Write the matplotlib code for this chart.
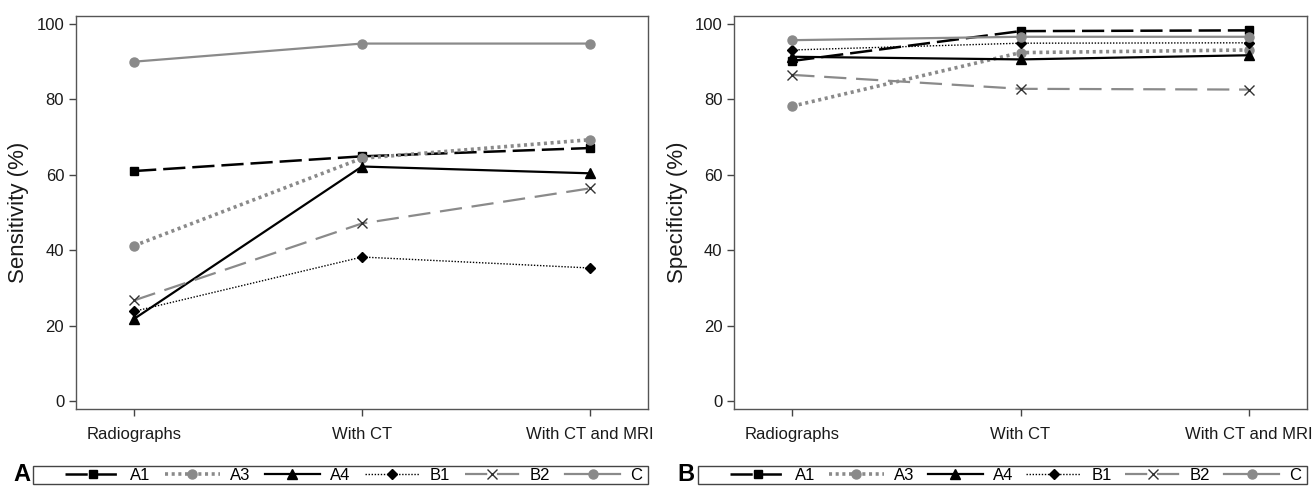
import matplotlib
matplotlib.use("Agg")
import matplotlib.pyplot as plt
from matplotlib.patches import Rectangle

plt.rcParams["font.family"] = ["Liberation Sans", "DejaVu Sans"]
plt.rcParams["lines.scale_dashes"] = False

# categories on the x axis
stages = ["Radiographs", "With CT", "With CT and MRI"]
readers = ["A1", "A3", "A4", "B1", "B2", "C"]

# sensitivity (%) per reader, panel A
sens_A1 = [61.0, 64.9, 67.1]
sens_A3 = [41.2, 64.4, 69.3]
sens_A4 = [21.8, 62.2, 60.4]
sens_B1 = [23.8, 38.2, 35.3]
sens_B2 = [26.7, 47.1, 56.4]
sens_C = [90.0, 94.8, 94.8]

# specificity (%) per reader, panel B
spec_A1 = [90.2, 98.1, 98.3]
spec_A3 = [78.2, 92.4, 93.1]
spec_A4 = [91.3, 90.6, 91.7]
spec_B1 = [93.1, 94.9, 95.0]
spec_B2 = [86.5, 82.8, 82.6]
spec_C = [95.7, 96.6, 96.6]

gray = "#8a8a8a"
styles = {
    "A1": dict(color="black", lw=1.8, dashes=(16, 5), marker="s", ms=5.5),
    "A3": dict(color=gray, lw=2.6, dashes=(2.2, 2.6), marker="o", ms=6.5),
    "A4": dict(color="black", lw=1.6, ls="-", marker="^", ms=6.5),
    "B1": dict(color="black", lw=1.0, dashes=(1, 1.2), marker="D", ms=5.5),
    "B2": dict(color=gray, lw=1.6, dashes=(16, 7), marker="x", ms=6.5,
               mec="#333333", mew=1.0),
    "C": dict(color=gray, lw=1.6, ls="-", marker="o", ms=6.5),
}

W, H = 1312, 486
fig = plt.figure(figsize=(W / 100, H / 100), dpi=100)
ax_a = fig.add_axes([0.0579, 0.1584, 0.436, 0.8086])
ax_b = fig.add_axes([0.5595, 0.1584, 0.4367, 0.8086])

panels = [
    (ax_a, "Sensitivity (%)", [sens_A1, sens_A3, sens_A4, sens_B1, sens_B2, sens_C]),
    (ax_b, "Specificity (%)", [spec_A1, spec_A3, spec_A4, spec_B1, spec_B2, spec_C]),
]

x = list(range(len(stages)))
for ax, ylab, series in panels:
    for name, vals in zip(readers, series):
        ax.plot(x, vals, label=name, **styles[name])
    ax.set_xlim(-0.255, 2.255)
    ax.set_ylim(-2.1, 102.1)
    ax.set_yticks([0, 20, 40, 60, 80, 100])
    ax.set_xticks(x)
    ax.set_xticklabels(stages)
    ax.tick_params(axis="both", labelsize=12, length=5, width=1,
                   color="#444444", labelcolor="#1a1a1a", direction="out")
    ax.tick_params(axis="x", pad=8)
    ax.set_ylabel(ylab, fontsize=16, color="#1a1a1a", labelpad=5)
    for sp in ax.spines.values():
        sp.set_color("#555555")
        sp.set_linewidth(1.0)

# legend boxes under each panel (pixel positions of the frame)
legend_boxes = [("A", ax_a, 13, 33, 648), ("B", ax_b, 677, 698, 1307)]
box_y0, box_y1 = 2, 20
for letter, ax, lx, bx0, bx1 in legend_boxes:
    fig.patches.append(Rectangle((bx0 / W, box_y0 / H), (bx1 - bx0) / W,
                                 (box_y1 - box_y0) / H, transform=fig.transFigure,
                                 fill=False, edgecolor="#444444", lw=1.0))
    h, l = ax.get_legend_handles_labels()
    fig.legend(h, l, ncol=6, loc="center left", mode="expand",
               bbox_to_anchor=((bx0 + 32) / W, box_y0 / H,
                               (bx1 - bx0 - 38) / W, (box_y1 - box_y0) / H),
               fontsize=12, handlelength=3.3, numpoints=1, frameon=False,
               borderpad=0, borderaxespad=0, handletextpad=0.6,
               columnspacing=1.0)
    fig.text(lx / W, 0.024, letter, fontsize=17, fontweight="bold",
             va="center", ha="left")

fig.savefig("out.png", dpi=100)
